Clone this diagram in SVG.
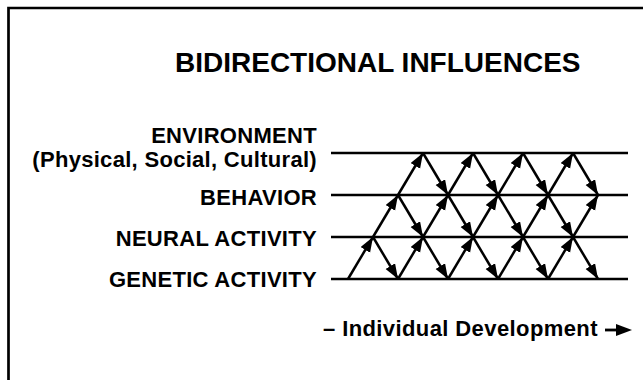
<svg xmlns="http://www.w3.org/2000/svg" width="643" height="380" viewBox="0 0 643 380">
  <style>
    .t { font-family: "Liberation Sans", Arial, Helvetica, sans-serif; font-weight: bold; fill: #000; }
    .lbl { font-size: 22px; letter-spacing: 0.3px; text-anchor: end; }
    .lvl { stroke: #000; stroke-width: 2.6; fill: none; }
    .arr { stroke: #000; stroke-width: 2.5; fill: none; marker-end: url(#ah); }
    .frame { stroke: #000; stroke-width: 2.7; fill: none; }
  </style>
  <defs>
    <marker id="ah" markerUnits="userSpaceOnUse" markerWidth="16" markerHeight="12" refX="15" refY="5.5" orient="auto">
      <path d="M0,0 L15,5.5 L0,11 z" fill="#000"/>
    </marker>
  </defs>
  <rect width="643" height="380" fill="#fff"/>
  <path class="frame" d="M8.5,380 V8 H643"/>

  <g id="title">
    <text class="t" x="175" y="72" font-size="28">BIDIRECTIONAL INFLUENCES</text>
  </g>

  <g id="environment">
    <text class="t lbl" x="317" y="143">ENVIRONMENT</text>
    <text class="t lbl" x="317" y="167">(Physical, Social, Cultural)</text>
    <line class="lvl" x1="331" y1="153" x2="628" y2="153"/>
  </g>
  <g id="behavior">
    <text class="t lbl" x="317" y="205">BEHAVIOR</text>
    <line class="lvl" x1="331" y1="195" x2="628" y2="195"/>
  </g>
  <g id="neural">
    <text class="t lbl" x="317" y="246">NEURAL ACTIVITY</text>
    <line class="lvl" x1="331" y1="237" x2="628" y2="237"/>
  </g>
  <g id="genetic">
    <text class="t lbl" x="317" y="287">GENETIC ACTIVITY</text>
    <line class="lvl" x1="331" y1="279" x2="628" y2="279"/>
  </g>

  <g id="connectors">
    <!-- Genetic -> Neural (up) -->
    <line class="arr" x1="348" y1="279" x2="373" y2="237"/>
    <line class="arr" x1="398" y1="279" x2="423" y2="237"/>
    <line class="arr" x1="448" y1="279" x2="473" y2="237"/>
    <line class="arr" x1="498" y1="279" x2="523" y2="237"/>
    <line class="arr" x1="548" y1="279" x2="573" y2="237"/>
    <!-- Neural -> Behavior (up) -->
    <line class="arr" x1="373" y1="237" x2="398" y2="195"/>
    <line class="arr" x1="423" y1="237" x2="448" y2="195"/>
    <line class="arr" x1="473" y1="237" x2="498" y2="195"/>
    <line class="arr" x1="523" y1="237" x2="548" y2="195"/>
    <line class="arr" x1="573" y1="237" x2="598" y2="195"/>
    <!-- Behavior -> Environment (up) -->
    <line class="arr" x1="398" y1="195" x2="423" y2="153"/>
    <line class="arr" x1="448" y1="195" x2="473" y2="153"/>
    <line class="arr" x1="498" y1="195" x2="523" y2="153"/>
    <line class="arr" x1="548" y1="195" x2="573" y2="153"/>
    <!-- Environment -> Behavior (down) -->
    <line class="arr" x1="423" y1="153" x2="448" y2="195"/>
    <line class="arr" x1="473" y1="153" x2="498" y2="195"/>
    <line class="arr" x1="523" y1="153" x2="548" y2="195"/>
    <line class="arr" x1="573" y1="153" x2="598" y2="195"/>
    <!-- Behavior -> Neural (down) -->
    <line class="arr" x1="398" y1="195" x2="423" y2="237"/>
    <line class="arr" x1="448" y1="195" x2="473" y2="237"/>
    <line class="arr" x1="498" y1="195" x2="523" y2="237"/>
    <line class="arr" x1="548" y1="195" x2="573" y2="237"/>
    <!-- Neural -> Genetic (down) -->
    <line class="arr" x1="373" y1="237" x2="398" y2="279"/>
    <line class="arr" x1="423" y1="237" x2="448" y2="279"/>
    <line class="arr" x1="473" y1="237" x2="498" y2="279"/>
    <line class="arr" x1="523" y1="237" x2="548" y2="279"/>
    <line class="arr" x1="573" y1="237" x2="598" y2="279"/>
  </g>

  <g id="axis">
    <text class="t" x="323" y="336" font-size="22" letter-spacing="0.4">– Individual Development</text>
    <path d="M605,330 H620" stroke="#000" stroke-width="2.8" fill="none"/>
    <path d="M616,324 L632,330 L616,336 z" fill="#000"/>
  </g>
</svg>
